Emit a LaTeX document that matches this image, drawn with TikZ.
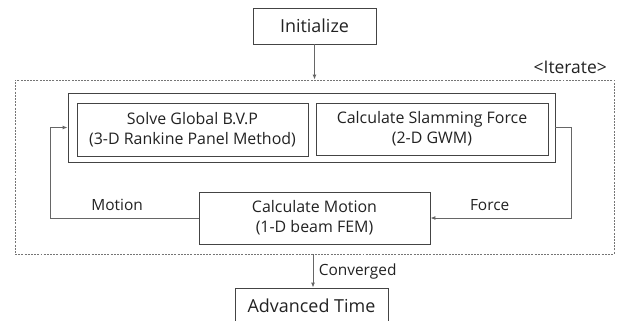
\documentclass[tikz,border=0pt]{standalone}
\usepackage{fontspec}
\setmainfont{Open Sans}
\usetikzlibrary{arrows.meta, positioning, calc}
\definecolor{BoxLine}{HTML}{444444}
\definecolor{WireGray}{HTML}{666666}
\definecolor{InkText}{HTML}{222222}

\tikzset{
    stepbox/.style={draw=BoxLine, line width=0.9pt, text=InkText, align=center,
                    inner sep=0pt, font=\fontsize{16}{20}\selectfont},
    bigbox/.style={stepbox, font=\fontsize{18}{20}\selectfont},
    wire/.style={draw=WireGray, line width=0.9pt},
    tip/.style={-{Latex[length=5pt, width=4pt]}},
    tag/.style={text=InkText, font=\fontsize{15.5}{18}\selectfont}
}

\begin{document}
\begin{tikzpicture}[x=1bp, y=-1bp]
    \useasboundingbox (0,0) rectangle (618,320);

    % outer loop region
    \node[draw=WireGray!90, dash pattern=on 2pt off 1.2pt, line width=0.9pt,
          minimum width=599bp, minimum height=174bp] (iter) at (314.5,167) {};
    \node[tag, font=\fontsize{17.5}{18}\selectfont, anchor=base east, inner sep=0pt]
        at (607,73) {<Iterate>};

    \node[bigbox, minimum width=123bp, minimum height=36bp] (init) at (314.5,26) {Initialize};

    % solver pair inside a frame
    \node[stepbox, minimum width=487bp, minimum height=69bp] (solver) at (311.5,127.5) {};
    \node[stepbox, minimum width=231bp, minimum height=53bp] (global) at (192.5,129.5)
        {Solve Global B.V.P\\(3-D Rankine Panel Method)};
    \node[stepbox, minimum width=232bp, minimum height=52bp] (slam) at (432,129)
        {Calculate Slamming Force\\(2-D GWM)};

    \node[stepbox, minimum width=231bp, minimum height=52bp] (motion) at (314.5,218)
        {Calculate Motion\\(1-D beam FEM)};
    \node[bigbox, minimum width=153bp, minimum height=36bp] (adv) at (311.5,306) {Advanced Time};

    % connectors
    \draw[wire, tip] (init) -- (iter.north);
    \draw[wire, tip] (motion.west) -- ++(-148,0) coordinate (mbend) |- (solver.west);
    \draw[wire, tip] (solver.east) -- ++(16,0) coordinate (fbend) |- (motion.east);
    \coordinate (fcorner) at (fbend |- motion.east);
    \draw[wire, tip] (iter.south -| 313,0) -- (adv.north -| 313,0)
        node[tag, midway, right=2bp] {Converged};

    \node[tag, anchor=base, inner sep=0pt] at ($(mbend)!0.45!(motion.west)+(0,-8)$) {Motion};
    \node[tag, anchor=base, inner sep=0pt] at ($(fcorner)!0.58!(motion.east)+(0,-8)$) {Force};
\end{tikzpicture}
\end{document}
